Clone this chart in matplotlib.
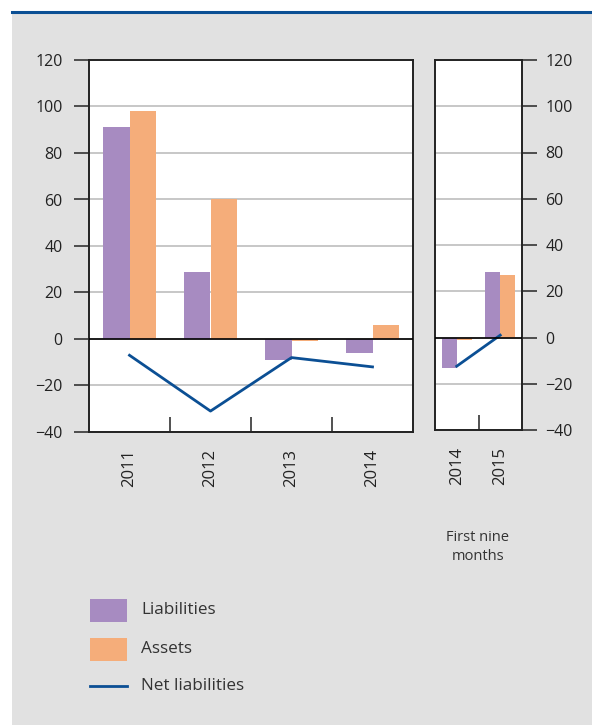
import numpy as np
import matplotlib
matplotlib.use("Agg")
import matplotlib.pyplot as plt
from matplotlib.patches import Rectangle
from matplotlib.lines import Line2D

plt.rcParams['font.family'] = ['Open Sans', 'DejaVu Sans']

# annual figures
years = ["2011", "2012", "2013", "2014"]
liabilities = [91, 29, -9, -6]
assets = [98, 60, -1, 6]
net_liabilities = [-7, -31, -8, -12]

# first nine months
years_9m = ["2014", "2015"]
liabilities_9m = [-13.3, 28.2]
assets_9m = [-0.9, 27.2]
net_liabilities_9m = [-12.4, 1.0]

yticks = [-40, -20, 0, 20, 40, 60, 80, 100, 120]

c_liab = "#a78bc1"
c_asset = "#f5ad7a"
c_net = "#0b4f94"
c_bg = "#e1e1e1"

W, H = 592, 725
fig = plt.figure(figsize=(W / 100, H / 100), dpi=100)
fig.patch.set_facecolor("white")

# grey panel with blue rule on top
fig.patches.append(Rectangle((12 / W, 0), 1 - 12 / W, 1 - 11 / H,
                             transform=fig.transFigure, facecolor=c_bg,
                             edgecolor="none", zorder=-5))
fig.lines.append(Line2D([12 / W, 1], [1 - 12 / H, 1 - 12 / H],
                        transform=fig.transFigure, color=c_net, lw=2.2,
                        zorder=-4))


def px_axes(x0, y0, x1, y1):
    return fig.add_axes([x0 / W, 1 - y1 / H, (x1 - x0) / W, (y1 - y0) / H])


def draw(ax, cats, liab, ass, net, bw):
    x = np.arange(len(cats))
    ax.set_facecolor("white")
    ax.bar(x - bw / 2, liab, bw, color=c_liab, lw=0, zorder=2)
    ax.bar(x + bw / 2, ass, bw, color=c_asset, lw=0, zorder=2)
    ax.plot(x, net, color=c_net, lw=2, zorder=3)
    ax.set_ylim(-40, 120)
    ax.set_xlim(-0.5, len(cats) - 0.5)
    ax.set_yticks(yticks)
    ax.set_yticklabels([("\u2212%d" % -v) if v < 0 else str(v) for v in yticks])
    ax.grid(axis="y", color="#bdbdbd", lw=1.2, zorder=1)
    ax.axhline(0, color="black", lw=1.2, zorder=4)
    ax.set_xticks(x)
    ax.set_xticklabels(cats, rotation=90, fontsize=12, color="#222222")
    # minor ticks mark the category boundaries
    ax.set_xticks(np.arange(len(cats) - 1) + 0.5, minor=True)
    ax.tick_params(axis="x", which="major", length=0, pad=12)
    ax.tick_params(axis="x", which="minor", direction="in", length=11,
                   width=1.2, color="#333333")
    ax.tick_params(axis="y", length=11, width=1.2, color="#333333",
                   labelsize=11.5, labelcolor="#222222", pad=8)
    for s in ax.spines.values():
        s.set_color("#222222")
        s.set_linewidth(1.4)


ax1 = px_axes(89, 60, 413, 432)
draw(ax1, years, liabilities, assets, net_liabilities, 0.333)

ax2 = px_axes(435, 60, 522, 430)
draw(ax2, years_9m, liabilities_9m, assets_9m, net_liabilities_9m, 0.345)
ax2.yaxis.tick_right()
ax2.tick_params(axis="y", pad=6)

fig.text(478 / W, 1 - 547 / H, "First nine\nmonths", ha="center", va="center",
         fontsize=10.5, color="#333333", linespacing=1.45)

# legend
items = [("patch", c_liab, "Liabilities", 610),
         ("patch", c_asset, "Assets", 649),
         ("line", c_net, "Net liabilities", 686)]
for kind, col, label, yc in items:
    if kind == "patch":
        fig.patches.append(Rectangle((90 / W, 1 - (yc + 11.5) / H), 37 / W, 23 / H,
                                     transform=fig.transFigure, facecolor=col,
                                     edgecolor="none"))
    else:
        fig.lines.append(Line2D([90 / W, 127 / W], [1 - yc / H, 1 - yc / H],
                                transform=fig.transFigure, color=col, lw=2))
    fig.text(141 / W, 1 - yc / H, label, ha="left", va="center",
             fontsize=12.3, color="#333333")

fig.savefig("out.png", dpi=100, facecolor=fig.get_facecolor())
